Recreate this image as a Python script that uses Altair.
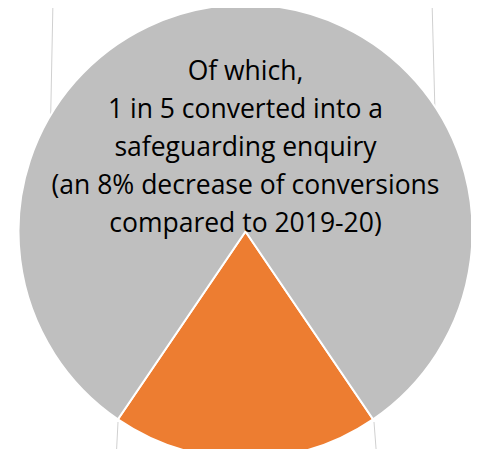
import altair as alt
import pandas as pd
import math

# Slice data
categories = ["Converted to safeguarding enquiry", "Not converted"]
shares = [19, 81]
slice_colors = ["#ED7D31", "#BFBFBF"]

# Annotation text lines
text_lines = [
    "Of which,",
    "1 in 5 converted into a",
    "safeguarding enquiry",
    "(an 8% decrease of conversions",
    "compared to 2019-20)",
]

# Connector lines of the original pie-of-pie layout (page pixel space)
conn_x = [53, 432, 118, 374]
conn_y = [0, 0, 422, 422]
conn_x2 = [50, 436, 116, 377]
conn_y2 = [150, 150, 461, 461]

W, H = 463, 441
R = 227
CX, CY = 237.5, 223.5

pie_df = pd.DataFrame({"cat": categories, "share": shares, "ord": [0, 1]})
start = math.pi - math.pi * shares[0] / 100.0

pie = alt.Chart(pie_df).mark_arc(radius=R, stroke="white", strokeWidth=2).encode(
    theta=alt.Theta("share:Q", stack=True,
                    scale=alt.Scale(range=[start, start + 2 * math.pi])),
    color=alt.Color("cat:N", scale=alt.Scale(domain=categories, range=slice_colors), legend=None),
    order=alt.Order("ord:Q"),
    x=alt.value(CX),
    y=alt.value(CY),
)

conn_df = pd.DataFrame({"x": conn_x, "y": conn_y, "x2": conn_x2, "y2": conn_y2})
# shift from page coords (8px margin) to chart coords
for c in ["x", "x2", "y", "y2"]:
    conn_df[c] = conn_df[c] - 8

rules = alt.Chart(conn_df).mark_rule(color="#D0D0D0", strokeWidth=1).encode(
    x=alt.X("x:Q", scale=alt.Scale(domain=[0, W], range=[0, W]), axis=None),
    x2="x2:Q",
    y=alt.Y("y:Q", scale=alt.Scale(domain=[0, H], range=[0, H]), axis=None),
    y2="y2:Q",
)

text_df = pd.DataFrame({"line": text_lines, "row": list(range(len(text_lines)))})
text = alt.Chart(text_df).mark_text(
    font="Open Sans", fontSize=26.5, color="#000000", align="center", baseline="alphabetic"
).encode(
    x=alt.value(CX),
    y=alt.Y("row:Q", scale=alt.Scale(domain=[0, 4], range=[72, 224]), axis=None),
    text="line:N",
)

chart = alt.layer(rules, pie, text).resolve_scale(y="independent", x="independent").properties(
    width=W, height=H, padding=0, autosize="none", background="white"
).configure_view(stroke=None)

chart.save("out.html", embed_options={"renderer": "svg", "actions": False})
